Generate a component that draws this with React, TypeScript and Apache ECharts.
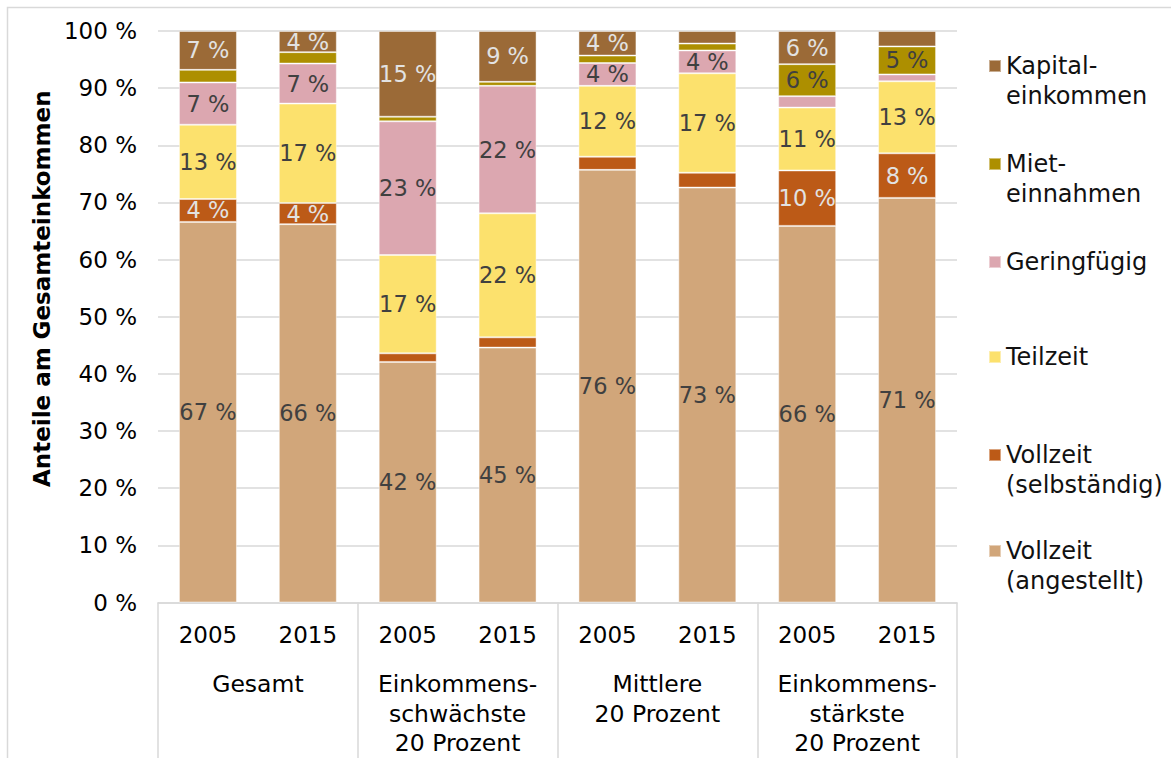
import React, { useEffect, useRef } from "react";
import * as echarts from "echarts";

const years = ["2005", "2015", "2005", "2015", "2005", "2015", "2005", "2015"];
const groups = [
  "Gesamt",
  "Einkommens-\nschwächste\n20 Prozent",
  "Mittlere\n20 Prozent",
  "Einkommens-\nstärkste\n20 Prozent",
];
const yTicks = [0, 10, 20, 30, 40, 50, 60, 70, 80, 90, 100];

const angestellt = [66.6, 66.2, 42.1, 44.6, 75.7, 72.6, 65.9, 70.8];
const selbst = [4.0, 3.7, 1.5, 1.8, 2.3, 2.6, 9.7, 7.8];
const teilzeit = [13.0, 17.4, 17.2, 21.7, 12.4, 17.4, 11.0, 12.6];
const geringfuegig = [7.4, 7.0, 23.4, 22.3, 4.0, 4.0, 2.0, 1.2];
const miete = [2.2, 2.0, 0.8, 0.7, 1.3, 1.2, 5.6, 4.9];
const kapital = [6.8, 3.7, 15.0, 8.9, 4.3, 2.2, 5.8, 2.7];

const seriesNames = [
  "Vollzeit\n(angestellt)",
  "Vollzeit\n(selbständig)",
  "Teilzeit",
  "Geringfügig",
  "Miet-\neinnahmen",
  "Kapital-\neinkommen",
];
const seriesData = [angestellt, selbst, teilzeit, geringfuegig, miete, kapital];
const colors = ["#D1A67A", "#BC5A17", "#FCE16D", "#DCA7B0", "#AD8F00", "#9B6A37"];
const labelColors = ["#404040", "#E2E2E2", "#404040", "#404040", "#404040", "#E2E2E2"];

const FONT = "DejaVu Sans";

export default function App() {
  const ref = useRef<HTMLDivElement>(null);

  useEffect(() => {
    if (!ref.current) return;
    const chart = echarts.init(ref.current, null, { renderer: "svg" });

    const legendCenters: Record<string, number> = {
      "Kapital-\neinkommen": 66,
      "Miet-\neinnahmen": 164,
      "Geringfügig": 262,
      "Teilzeit": 357,
      "Vollzeit\n(selbständig)": 455,
      "Vollzeit\n(angestellt)": 551,
    };
    const LH = 30;
    const legends = seriesNames.map((name) => {
      const twoLine = name.indexOf("\n") >= 0;
      return {
        orient: "vertical",
        left: 988,
        top: legendCenters[name] - (twoLine ? 1.5 * LH : 0.5 * LH),
        padding: 0,
        itemWidth: 12,
        itemHeight: 12,
        icon: "rect",
        data: [name],
        formatter: (n: string) => (twoLine ? " \n" + n : n),
        textStyle: {
          fontFamily: FONT,
          fontSize: 24,
          lineHeight: LH,
          color: "#111",
        },
      };
    });

    chart.setOption({
      animation: false,
      textStyle: { fontFamily: FONT },
      graphic: [
        {
          type: "rect",
          shape: { x: 7.5, y: 7.5, width: 1400, height: 1000 },
          style: { fill: "none", stroke: "#d9d9d9", lineWidth: 1.5 },
          silent: true,
        },
      ],
      legend: legends,
      grid: { left: 158, right: 214, top: 31, bottom: 151, containLabel: false },
      xAxis: [
        {
          type: "category",
          data: years,
          axisLine: { show: true, lineStyle: { color: "#d9d9d9", width: 1.5 } },
          axisTick: { show: false },
          axisLabel: { interval: 0, color: "#000", fontSize: 23, margin: 21, fontFamily: FONT },
        },
        {
          type: "category",
          data: groups,
          position: "bottom",
          axisLine: { show: false },
          axisTick: { show: true, interval: 0, length: 160, lineStyle: { color: "#d9d9d9", width: 1.5 } },
          axisLabel: {
            interval: 0,
            hideOverlap: false,
            color: "#000",
            fontSize: 23.5,
            lineHeight: 29.5,
            margin: 67,
            fontFamily: FONT,
          },
          splitLine: { show: false },
        },
      ],
      yAxis: {
        type: "value",
        min: yTicks[0],
        max: yTicks[yTicks.length - 1],
        interval: 10,
        axisLabel: { formatter: "{value} %", color: "#000", fontSize: 23, margin: 21, fontFamily: FONT },
        axisLine: { show: false },
        axisTick: { show: false },
        splitLine: { lineStyle: { color: "#d9d9d9", width: 1.5 } },
        name: "Anteile am Gesamteinkommen",
        nameLocation: "middle",
        nameGap: 102,
        nameTextStyle: {
          fontSize: 23,
          fontWeight: "bold",
          color: "#000",
          fontFamily: FONT,
          padding: [0, 0, 0, 56],
        },
      },
      series: seriesNames.map((name, i) => ({
        name,
        type: "bar",
        stack: "total",
        xAxisIndex: 0,
        barWidth: 58,
        data: seriesData[i],
        itemStyle: { color: colors[i], borderColor: "rgba(255,255,255,0.45)", borderWidth: 1 },
        label: {
          show: true,
          position: "inside",
          fontSize: 22.5,
          fontFamily: FONT,
          color: labelColors[i],
          formatter: (p: any) => (p.value >= 3 ? Math.round(p.value) + " %" : ""),
        },
      })),
    });

    return () => chart.dispose();
  }, []);

  return (
    <div
      ref={ref}
      style={{ position: "fixed", left: 0, top: 0, width: 1171, height: 758, background: "#fff" }}
    />
  );
}
